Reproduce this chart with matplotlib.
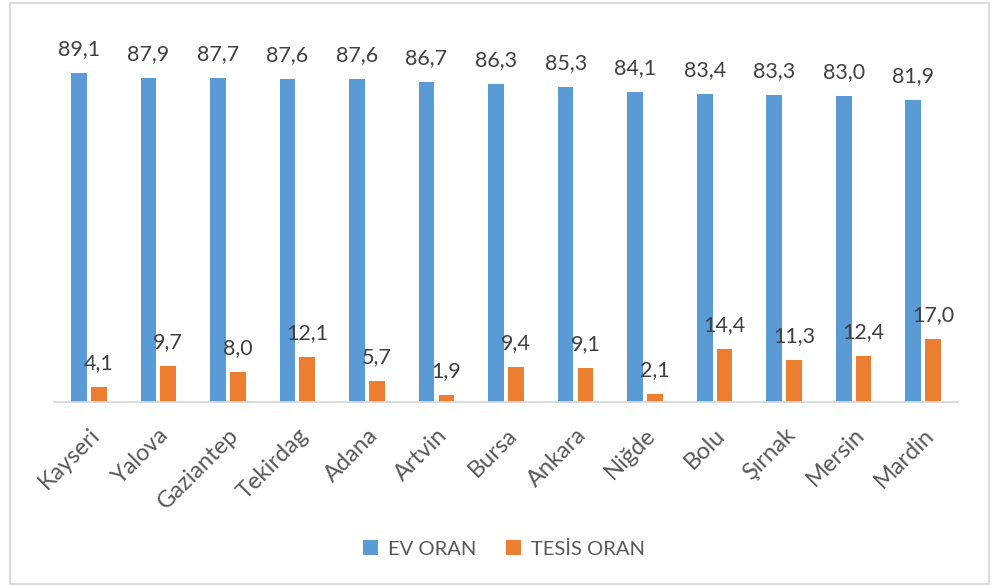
import numpy as np
import matplotlib
matplotlib.use("Agg")
import matplotlib.pyplot as plt
from matplotlib.patches import Rectangle

plt.rcParams["font.family"] = ["Lato", "DejaVu Sans"]

# Données
iller = ["Kayseri", "Yalova", "Gaziantep", "Tekirdag", "Adana", "Artvin", "Bursa",
         "Ankara", "Niğde", "Bolu", "Şırnak", "Mersin", "Mardin"]
ev_oran = [89.1, 87.9, 87.7, 87.6, 87.6, 86.7, 86.3, 85.3, 84.1, 83.4, 83.3, 83.0, 81.9]
tesis_oran = [4.1, 9.7, 8.0, 12.1, 5.7, 1.9, 9.4, 9.1, 2.1, 14.4, 11.3, 12.4, 17.0]

mavi = "#5B9BD5"
turuncu = "#ED7D31"

fig = plt.figure(figsize=(10.05, 5.85), dpi=100)
# cadre du graphique
fig.patches.append(Rectangle((10 / 1005, 1 - 584 / 585), 979 / 1005, 581 / 585,
                             transform=fig.transFigure, fill=False,
                             edgecolor="#D9D9D9", linewidth=1.3))

ax = fig.add_axes([54 / 1005, 1 - 402 / 585, 904 / 1005, 369 / 585])

x = np.arange(len(iller))
w = 0.225
b1 = ax.bar(x - w / 2 - 0.03, ev_oran, w, color=mavi, label="EV ORAN")
b2 = ax.bar(x + w / 2 + 0.03, tesis_oran, w, color=turuncu, label="TESİS ORAN")

for bars in (b1, b2):
    for b in bars:
        h = b.get_height()
        ax.annotate(f"{h:.1f}".replace(".", ","), (b.get_x() + b.get_width() / 2, h),
                    xytext=(0, 10), textcoords="offset points", ha="center",
                    va="bottom", fontsize=15.5, color="#404040")

ax.set_xlim(-0.5, len(iller) - 0.5)
ax.set_ylim(0, 100)
ax.set_yticks([])
ax.set_xticks(x)
ax.set_xticklabels(iller, rotation=45, ha="right", rotation_mode="anchor",
                   fontsize=17, color="#595959")
ax.tick_params(axis="x", length=0, pad=16)
for s in ["top", "right", "left"]:
    ax.spines[s].set_visible(False)
ax.spines["bottom"].set_color("#D9D9D9")
ax.spines["bottom"].set_linewidth(1.3)

fig.legend(loc="center", bbox_to_anchor=(504 / 1005, 1 - 549 / 585), ncol=2,
           frameon=False, fontsize=14.5, labelcolor="#595959", handlelength=0.75,
           handleheight=0.75, columnspacing=1.5, handletextpad=0.5)

plt.savefig("out.png", dpi=100)
